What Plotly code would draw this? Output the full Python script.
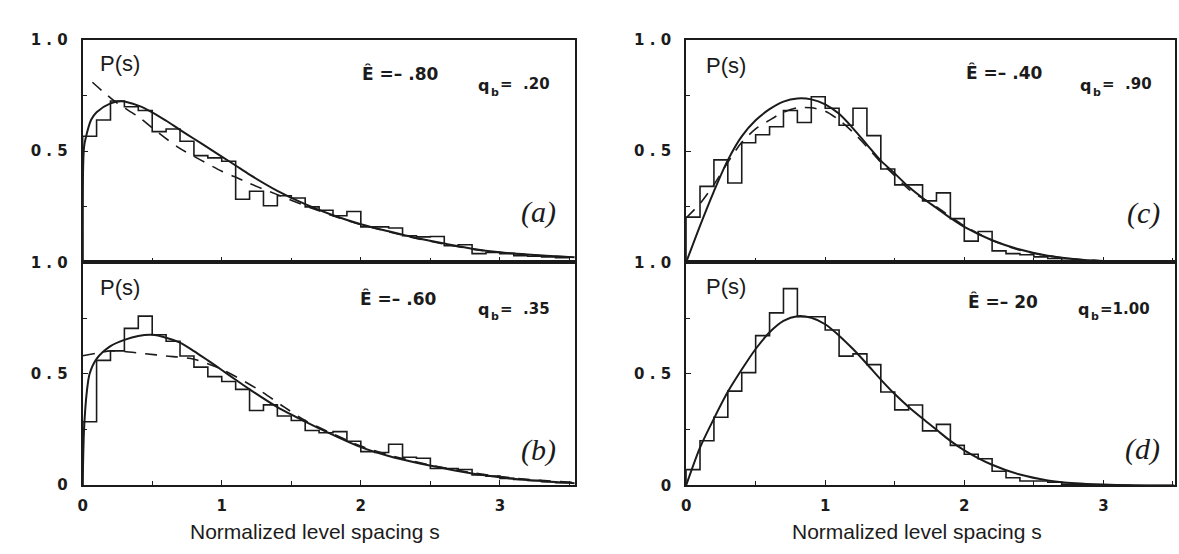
import numpy as np
import plotly.graph_objects as go

W, H = 1179, 554
BIN_WIDTH = 0.1
N_BINS = 35

# Histogram heights of the spacing distribution, bins of width 0.1 starting at s = 0
HIST_A = [0.567, 0.640, 0.726, 0.700, 0.683, 0.588, 0.600, 0.545, 0.480, 0.470,
          0.455, 0.284, 0.320, 0.255, 0.300, 0.290, 0.250, 0.235, 0.210, 0.229,
          0.160, 0.160, 0.155, 0.120, 0.115, 0.117, 0.075, 0.080, 0.040, 0.045,
          0.040, 0.030, 0.028, 0.025, 0.022]
HIST_B = [0.284, 0.560, 0.603, 0.704, 0.759, 0.675, 0.646, 0.580, 0.530, 0.487,
          0.465, 0.430, 0.335, 0.360, 0.310, 0.290, 0.245, 0.235, 0.240, 0.197,
          0.150, 0.146, 0.183, 0.125, 0.120, 0.074, 0.074, 0.070, 0.045, 0.040,
          0.030, 0.025, 0.020, 0.015, 0.010]
HIST_C = [0.204, 0.342, 0.461, 0.357, 0.538, 0.574, 0.610, 0.683, 0.629, 0.745,
          0.693, 0.617, 0.693, 0.570, 0.420, 0.349, 0.349, 0.277, 0.313, 0.197,
          0.096, 0.139, 0.052, 0.040, 0.035, 0.025, 0.018, 0.010, 0.006, 0.004,
          0.003, 0.002, 0.001, 0.001, 0.001]
HIST_D = [0.071, 0.201, 0.306, 0.423, 0.506, 0.672, 0.774, 0.883, 0.757, 0.757,
          0.697, 0.580, 0.590, 0.542, 0.419, 0.339, 0.361, 0.245, 0.274, 0.180,
          0.140, 0.120, 0.064, 0.035, 0.020, 0.020, 0.015, 0.006, 0.003, 0.002,
          0.001, 0.001, 0.000, 0.000, 0.000]

# Fitted distributions (solid) and reference distributions (dashed)
SOLID_A_S = [0, 0.01, 0.03, 0.06, 0.10, 0.20, 0.28, 0.40, 0.50, 0.60, 0.70, 0.80, 0.90, 1.00,
             1.10, 1.20, 1.40, 1.60, 1.80, 2.00, 2.20, 2.40, 2.60, 2.80, 3.00, 3.20, 3.40, 3.54]
SOLID_A_P = [0, 0.52, 0.58, 0.64, 0.675, 0.715, 0.725, 0.705, 0.675, 0.637, 0.596, 0.556, 0.516,
             0.476, 0.436, 0.395, 0.322, 0.262, 0.212, 0.172, 0.14, 0.11, 0.085, 0.062, 0.046,
             0.036, 0.028, 0.024]
DASH_A_S = [0.07, 0.17, 0.25, 0.40, 0.50, 0.69, 0.85, 1.00, 1.09, 1.20, 1.40, 1.60, 1.80, 2.00,
            2.20, 2.40, 2.60, 2.80, 3.00, 3.20, 3.40, 3.54]
DASH_A_P = [0.81, 0.755, 0.715, 0.655, 0.605, 0.516, 0.46, 0.41, 0.386, 0.355, 0.305, 0.255, 0.21,
            0.17, 0.138, 0.108, 0.083, 0.06, 0.045, 0.035, 0.028, 0.024]

SOLID_B_S = [0, 0.01, 0.03, 0.05, 0.10, 0.20, 0.30, 0.40, 0.50, 0.60, 0.70, 0.80, 0.90, 1.00,
             1.10, 1.20, 1.40, 1.60, 1.80, 2.00, 2.20, 2.40, 2.60, 2.80, 3.00, 3.20, 3.40, 3.54]
SOLID_B_P = [0, 0.25, 0.42, 0.50, 0.567, 0.624, 0.652, 0.67, 0.675, 0.662, 0.64, 0.602, 0.56,
             0.517, 0.473, 0.43, 0.35, 0.285, 0.225, 0.17, 0.13, 0.10, 0.075, 0.052, 0.035, 0.022,
             0.013, 0.008]
DASH_B_S = [0, 0.10, 0.20, 0.30, 0.45, 0.60, 0.80, 1.00, 1.26, 1.45, 1.60, 1.80, 2.00, 2.20,
            2.50, 2.80, 3.20, 3.54]
DASH_B_P = [0.581, 0.592, 0.603, 0.60, 0.59, 0.58, 0.565, 0.52, 0.43, 0.35, 0.29, 0.23, 0.175,
            0.135, 0.09, 0.055, 0.025, 0.012]

SOLID_C_S = [0, 0.10, 0.20, 0.30, 0.40, 0.50, 0.60, 0.70, 0.80, 0.90, 1.00, 1.10, 1.20, 1.30,
             1.40, 1.50, 1.60, 1.70, 1.80, 1.90, 2.00, 2.20, 2.40, 2.60, 2.80, 3.00, 3.20, 3.51]
SOLID_C_P = [0, 0.165, 0.32, 0.46, 0.567, 0.639, 0.689, 0.723, 0.737, 0.733, 0.711, 0.668, 0.603,
             0.53, 0.458, 0.40, 0.34, 0.29, 0.245, 0.20, 0.16, 0.10, 0.058, 0.03, 0.015, 0.007,
             0.003, 0.001]
DASH_C_S = [0, 0.10, 0.20, 0.30, 0.40, 0.50, 0.60, 0.70, 0.80, 0.90, 1.00, 1.10, 1.20, 1.30,
            1.40, 1.50, 1.60, 1.80, 2.00, 2.20, 2.40, 2.60, 2.80, 3.00, 3.51]
DASH_C_P = [0.20, 0.265, 0.35, 0.45, 0.54, 0.60, 0.64, 0.675, 0.695, 0.695, 0.68, 0.64, 0.585,
            0.52, 0.45, 0.39, 0.33, 0.25, 0.165, 0.10, 0.055, 0.03, 0.015, 0.007, 0.001]

SOLID_D_S = [0, 0.10, 0.20, 0.30, 0.40, 0.50, 0.60, 0.70, 0.80, 0.90, 1.00, 1.10, 1.20, 1.30,
             1.40, 1.50, 1.60, 1.70, 1.80, 1.90, 2.00, 2.20, 2.40, 2.60, 2.80, 3.00, 3.20, 3.51]
SOLID_D_P = [0, 0.17, 0.30, 0.42, 0.52, 0.612, 0.687, 0.738, 0.759, 0.752, 0.723, 0.672, 0.612,
             0.545, 0.475, 0.41, 0.352, 0.30, 0.25, 0.20, 0.158, 0.093, 0.049, 0.023, 0.01, 0.004,
             0.001, 0.0]

E_LABELS = ["Ê =– .80", "Ê =– .60", "Ê =– .40", "Ê =– 20"]
Q_VALUES = ["=  .20", "=  .35", "=  .90", "=1.00"]
PANEL_TAGS = ["(a)", "(b)", "(c)", "(d)"]
Y_TICK_VALS = [0, 0.5, 1.0]
Y_TICK_TEXT = ["0", "0 . 5", "1 . 0"]
Y_MINOR_VALS = [0.25, 0.75]
X_TICK_VALS = [0, 1, 2, 3]
X_TICK_TEXT = ["0", "1", "2", "3"]
X_MINOR_VALS = [0.5, 1.5, 2.5, 3.5]
X_TITLE = "Normalized level spacing s"

INK = "#1b1b1b"


def fx(p):
    return p / W


def fy(p):
    return 1 - p / H


# pixel boxes of the four panels: (left, right, top, bottom) and x range
PANELS = [
    dict(box=(78, 572, 32, 262), xmax=3.537, bottom=False),
    dict(box=(78, 572, 262, 492), xmax=3.537, bottom=True),
    dict(box=(684, 1175, 32, 262), xmax=3.515, bottom=False),
    dict(box=(684, 1175, 262, 492.5), xmax=3.515, bottom=True),
]

HISTS = [HIST_A, HIST_B, HIST_C, HIST_D]
SOLIDS = [(SOLID_A_S, SOLID_A_P), (SOLID_B_S, SOLID_B_P), (SOLID_C_S, SOLID_C_P), (SOLID_D_S, SOLID_D_P)]
DASHES = [(DASH_A_S, DASH_A_P), (DASH_B_S, DASH_B_P), (DASH_C_S, DASH_C_P), None]

edges = np.arange(N_BINS + 1) * BIN_WIDTH

fig = go.Figure()
layout = dict(
    width=W, height=H, margin=dict(l=0, r=0, t=0, b=0),
    paper_bgcolor="white", plot_bgcolor="white", showlegend=False,
)

tick_font = dict(family="DejaVu Sans", size=15, color=INK, weight="bold")
minor_style = dict(ticks="inside", ticklen=4, tickwidth=1.3, tickcolor=INK, showgrid=False)

for i, pan in enumerate(PANELS):
    k = "" if i == 0 else str(i + 1)
    xa, ya = "x" + k, "y" + k
    l, r, t, b = pan["box"]
    layout["xaxis" + k] = dict(
        domain=[fx(l), fx(r)], range=[0, pan["xmax"]], anchor=ya,
        showline=True, mirror=True, linecolor=INK, linewidth=2,
        ticks="inside", ticklen=5, tickwidth=1.3, tickcolor=INK,
        tickmode="array", tickvals=X_TICK_VALS, ticktext=X_TICK_TEXT,
        minor=dict(tickmode="array", tickvals=X_MINOR_VALS, **minor_style),
        showticklabels=pan["bottom"], tickfont=tick_font, ticklabelstandoff=6,
        showgrid=False, zeroline=False, fixedrange=True,
    )
    yvals = Y_TICK_VALS if pan["bottom"] else Y_TICK_VALS[1:]
    ytext = Y_TICK_TEXT if pan["bottom"] else Y_TICK_TEXT[1:]
    layout["yaxis" + k] = dict(
        domain=[fy(b), fy(t)], range=[0, 1], anchor=xa,
        showline=True, mirror=True, linecolor=INK, linewidth=2,
        ticks="inside", ticklen=5, tickwidth=1.3, tickcolor=INK,
        tickmode="array", tickvals=yvals, ticktext=ytext,
        minor=dict(tickmode="array", tickvals=Y_MINOR_VALS, **minor_style),
        tickfont=tick_font, ticklabelstandoff=10,
        showgrid=False, zeroline=False, fixedrange=True,
    )

    hist = HISTS[i]
    hx = [0.0] + list(edges[:-1]) + [edges[-1]]
    hy = [0.0] + list(hist) + [hist[-1]]
    fig.add_trace(go.Scatter(x=hx, y=hy, xaxis=xa, yaxis=ya, mode="lines",
                             line=dict(shape="hv", color=INK, width=1.6)))
    sx, sp = SOLIDS[i]
    fig.add_trace(go.Scatter(x=sx, y=sp, xaxis=xa, yaxis=ya, mode="lines",
                             line=dict(shape="spline", smoothing=0.8, color=INK, width=2)))
    if DASHES[i] is not None:
        dx, dp = DASHES[i]
        fig.add_trace(go.Scatter(x=dx, y=dp, xaxis=xa, yaxis=ya, mode="lines",
                                 line=dict(shape="spline", smoothing=0.8, color=INK, width=1.6,
                                           dash="12px,9px")))

annotations = []


def label(x, y, text, font, xanchor="center"):
    annotations.append(dict(x=fx(x), y=fy(y), xref="paper", yref="paper", text=text,
                            showarrow=False, xanchor=xanchor, yanchor="middle", font=font))


# P(s) labels, energy / q_b labels, panel tags
ps_pos = [(93, 56), (93, 288), (702, 58), (702, 287)]
e_pos = [(397, 67), (395, 299), (1003, 66), (1002, 302)]
q_pos = [(473, 80), (473, 312), (1078, 80), (1076, 312)]
tag_pos = [(536, 210), (536, 456), (1143, 211), (1142, 455)]
bold = dict(family="DejaVu Sans", color=INK, weight="bold")
for i in range(4):
    label(ps_pos[i][0], ps_pos[i][1], "P(s)",
          dict(family="Liberation Sans", size=22, color=INK), xanchor="left")
    label(e_pos[i][0], e_pos[i][1], E_LABELS[i], dict(size=17, **bold))
    qx, qy = q_pos[i]
    label(qx, qy - 1, "q", dict(size=16, **bold), xanchor="left")
    label(qx + 13, qy + 6, "b", dict(size=11, **bold), xanchor="left")
    label(qx + 22, qy - 2, Q_VALUES[i], dict(size=15, **bold), xanchor="left")
    label(tag_pos[i][0], tag_pos[i][1], "<i>%s</i>" % PANEL_TAGS[i],
          dict(family="Liberation Serif", size=30, color=INK))

for cx in (311, 916):
    label(cx, 540, X_TITLE, dict(family="Liberation Sans", size=21, color=INK))

layout["annotations"] = annotations
fig.update_layout(**layout)
fig.write_html("out.html")
